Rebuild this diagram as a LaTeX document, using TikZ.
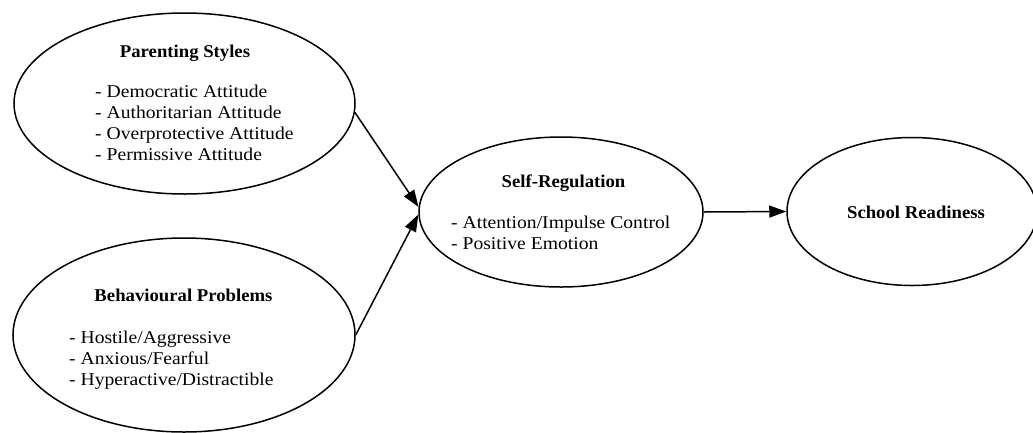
\documentclass[tikz,border=0pt]{standalone}
\usepackage{fontspec}
\setmainfont{Liberation Serif}[FakeStretch=1.09,BoldFeatures={FakeStretch=1.04}]
\usetikzlibrary{shapes.geometric,arrows.meta}
\begin{document}
\begin{tikzpicture}[x=1pt,y=1pt,
  bubble/.style={ellipse,draw,line width=1.5pt,inner sep=0pt},
  lbl/.style={inner sep=0pt,font=\fontsize{18}{21}\selectfont},
  ttl/.style={inner sep=0pt,font=\fontsize{18}{21}\selectfont\bfseries,anchor=base},
  arr/.style={line width=1.5pt,-{Triangle[length=17pt,width=12pt]}}]
\useasboundingbox (0,0) rectangle (1033,-432);
\fill[white] (0,0) rectangle (1033,-432);
% ellipses
\node[bubble,minimum width=341pt,minimum height=181pt] (ps) at (184.5,-103.5) {};
\node[bubble,minimum width=342pt,minimum height=194pt] (bp) at (184,-335) {};
\node[bubble,minimum width=284pt,minimum height=150pt] (sr) at (561,-212) {};
\node[bubble,minimum width=250pt,minimum height=148pt] (sch) at (912,-211.5) {};
% texts
\node[ttl] (pst) at (185,-57) {Parenting Styles};
\node[lbl,anchor=base west] (psl) at (95,-97) {\begin{tabular}[t]{@{}l@{}}- Democratic Attitude\\- Authoritarian Attitude\\- Overprotective Attitude\\- Permissive Attitude\end{tabular}};
\node[ttl] (bpt) at (183.5,-301) {Behavioural Problems};
\node[lbl,anchor=base west] (bpl) at (69,-343) {\begin{tabular}[t]{@{}l@{}}- Hostile/Aggressive\\- Anxious/Fearful\\- Hyperactive/Distractible\end{tabular}};
\node[ttl] (srt) at (563.5,-187) {Self-Regulation};
\node[lbl,anchor=base west] (srl) at (451,-228) {\begin{tabular}[t]{@{}l@{}}- Attention/Impulse Control\\- Positive Emotion\end{tabular}};
\node[ttl] (scht) at (916,-218) {School Readiness};
% arrows
\draw[arr] (ps.-3) -- (sr.178);
\draw[arr] (bp.east) -- (sr.181);
\draw[arr] (sr.east) -- (sch.west);
\end{tikzpicture}
\end{document}
